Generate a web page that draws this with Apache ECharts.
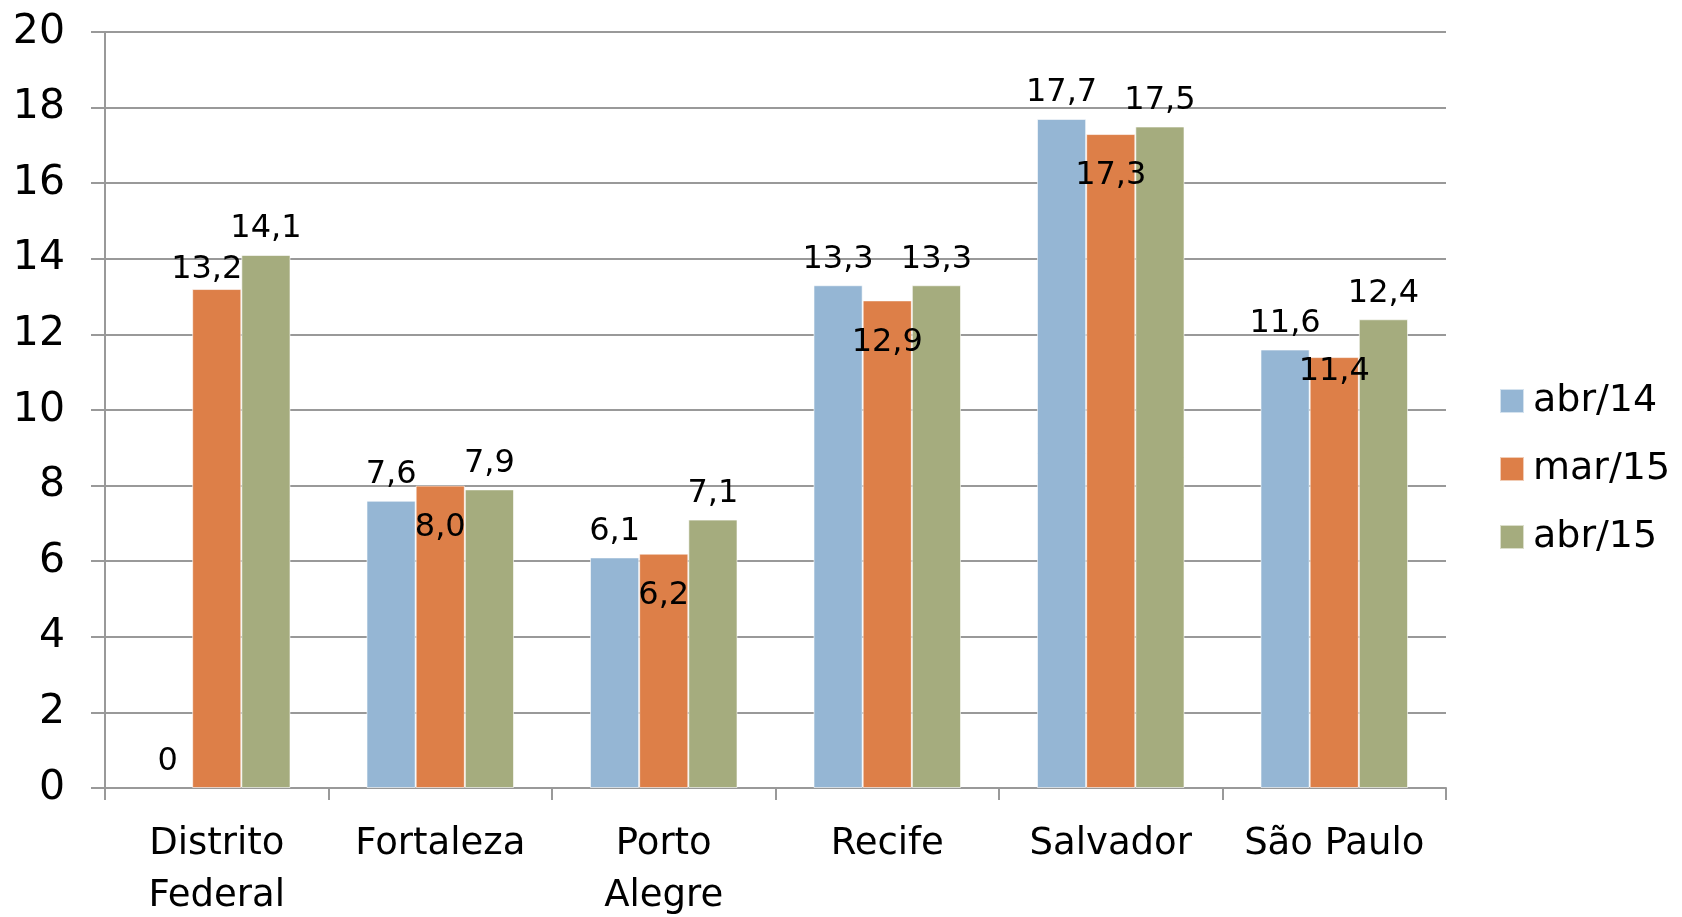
<!DOCTYPE html>
<html>
<head>
<meta charset="utf-8">
<script src="https://cdn.jsdelivr.net/npm/echarts@6/dist/echarts.min.js"></script>
<style>
  html, body { margin: 0; padding: 0; background: #ffffff; }
  #chart { width: 1682px; height: 917px; }
</style>
</head>
<body>
<div id="chart"></div>
<script>
// Cities and monthly values per period
const categories = ['Distrito\nFederal', 'Fortaleza', 'Porto\nAlegre', 'Recife', 'Salvador', 'São Paulo'];
const seriesNames = ['abr/14', 'mar/15', 'abr/15'];
const abr14 = [0, 7.6, 6.1, 13.3, 17.7, 11.6];
const mar15 = [13.2, 8.0, 6.2, 12.9, 17.3, 11.4];
const abr15 = [14.1, 7.9, 7.1, 13.3, 17.5, 12.4];
const colors = ['#95B6D4', '#DD7F48', '#A5AC7E'];

const FONT = 'DejaVu Sans';
const fmt = v => (v === 0 ? '0' : v.toFixed(1).replace('.', ','));

const labelBase = {
  show: true,
  color: '#000',
  fontFamily: FONT,
  fontSize: 32,
  formatter: p => fmt(p.value)
};

// zero-height bars get no outline so nothing shows on the axis
const toItems = values => values.map(v => (v === 0 ? { value: v, itemStyle: { borderWidth: 0 } } : v));

function outsideSeries(name, values, color) {
  return {
    name, type: 'bar', data: toItems(values), barGap: '0%', barCategoryGap: '34%',
    itemStyle: { color, borderColor: 'rgba(255,255,255,0.6)', borderWidth: 1 },
    label: Object.assign({}, labelBase, { position: 'top', distance: 10 })
  };
}

// Middle series: labels sit just inside the bar top, except where there is room above
const midData = mar15.map((v, i) => {
  if (i === 0) {
    return { value: v, label: { position: 'top', distance: 3, offset: [-10, 0] } };
  }
  if (i === 5) {
    return { value: v, label: { position: 'insideTop', distance: -1 } };
  }
  return v;
});

const chart = echarts.init(document.getElementById('chart'), null, { renderer: 'canvas' });
chart.setOption({
  animation: false,
  color: colors,
  grid: { left: 105, right: 236, top: 32, bottom: 129, outerBoundsMode: 'none', containLabel: false },
  legend: {
    orient: 'vertical',
    left: 1494, top: 377,
    itemWidth: 24, itemHeight: 24, itemGap: 30,
    icon: 'rect',
    textStyle: { fontFamily: FONT, fontSize: 38, color: '#000', padding: [0, 0, 0, 4] },
    data: seriesNames
  },
  xAxis: {
    type: 'category',
    data: categories,
    axisLine: { lineStyle: { color: '#999', width: 2 } },
    axisTick: { show: true, interval: 0, length: 12, lineStyle: { color: '#999', width: 2 } },
    axisLabel: { interval: 0, fontFamily: FONT, fontSize: 37, color: '#000', margin: 30, lineHeight: 52 }
  },
  yAxis: {
    type: 'value', min: 0, max: 20, interval: 2,
    axisLine: { show: true, lineStyle: { color: '#999', width: 2 } },
    axisTick: { show: true, length: 14, lineStyle: { color: '#999', width: 2 } },
    splitLine: { lineStyle: { color: '#999', width: 2 } },
    axisLabel: { fontFamily: FONT, fontSize: 41, color: '#000', margin: 40 }
  },
  series: [
    outsideSeries(seriesNames[0], abr14, colors[0]),
    {
      name: seriesNames[1], type: 'bar', data: midData, barGap: '0%', barCategoryGap: '34%',
      itemStyle: { color: colors[1], borderColor: 'rgba(255,255,255,0.6)', borderWidth: 1 },
      label: Object.assign({}, labelBase, { position: 'insideTop', distance: 26 })
    },
    outsideSeries(seriesNames[2], abr15, colors[2])
  ]
});
</script>
</body>
</html>
